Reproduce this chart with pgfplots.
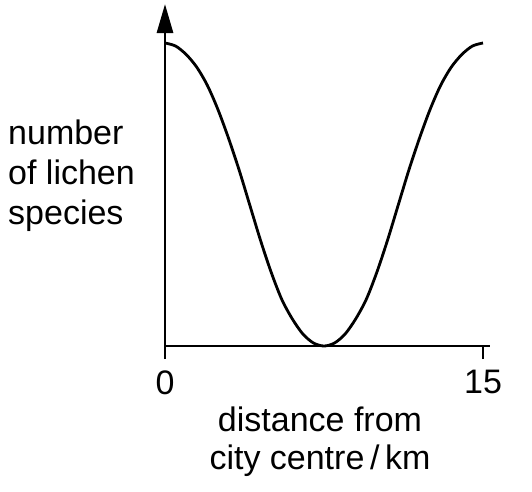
\documentclass[border=0pt]{standalone}
\usepackage{fontspec}
\setmainfont{Liberation Sans}
\usepackage{pgfplots}
\pgfplotsset{compat=1.18}
\usetikzlibrary{arrows.meta}
\begin{document}
\fontsize{34pt}{40pt}\selectfont
\begin{tikzpicture}
\useasboundingbox (0,0) rectangle (532pt,-491pt);
\begin{axis}[
 at={(165pt,-346pt)}, anchor=origin,
 scale only axis, width=325pt, height=342pt,
 xmin=0, xmax=15.33, ymin=0, ymax=1.1287,
 axis lines=left,
 axis line style={line width=2.9pt, black},
 x axis line style={-},
 y axis line style={-{Triangle[length=29pt,width=16pt]}},
 xtick={0,15}, ytick=\empty,
 tick align=outside, major tick length=13pt,
 tick style={line width=2.9pt, black},
 /pgf/number format/assume math mode=true,
 every tick label/.append style={font=\fontsize{34pt}{40pt}\selectfont},
 xlabel={distance from\\city centre\,/\,km},
 xlabel style={font=\fontsize{34pt}{38pt}\selectfont, align=center, inner sep=0pt,
   at={(axis description cs:0.477,0)}, anchor=north, yshift=-61pt},
 ylabel={number\\of lichen\\species},
 ylabel style={rotate=-90, font=\fontsize{34pt}{40pt}\selectfont, align=left, inner sep=0pt,
   at={(axis description cs:0,0)}, anchor=north west, xshift=-157pt, yshift=226pt},
 clip=false
]
\addplot[smooth, line width=2.8pt, black] coordinates {
(0,1) (0.5,0.99) (1,0.962) (1.5,0.92) (2,0.86) (2.5,0.78)
(3,0.685) (3.5,0.58) (4,0.465) (4.5,0.35) (5,0.245) (5.5,0.155)
(6,0.09) (6.5,0.04) (7,0.01) (7.5,0)
(8,0.01) (8.5,0.04) (9,0.09) (9.5,0.155) (10,0.245) (10.5,0.35)
(11,0.465) (11.5,0.58) (12,0.685) (12.5,0.78) (13,0.86) (13.5,0.92)
(14,0.962) (14.5,0.99) (15,1)
};
\end{axis}
\end{tikzpicture}
\end{document}
